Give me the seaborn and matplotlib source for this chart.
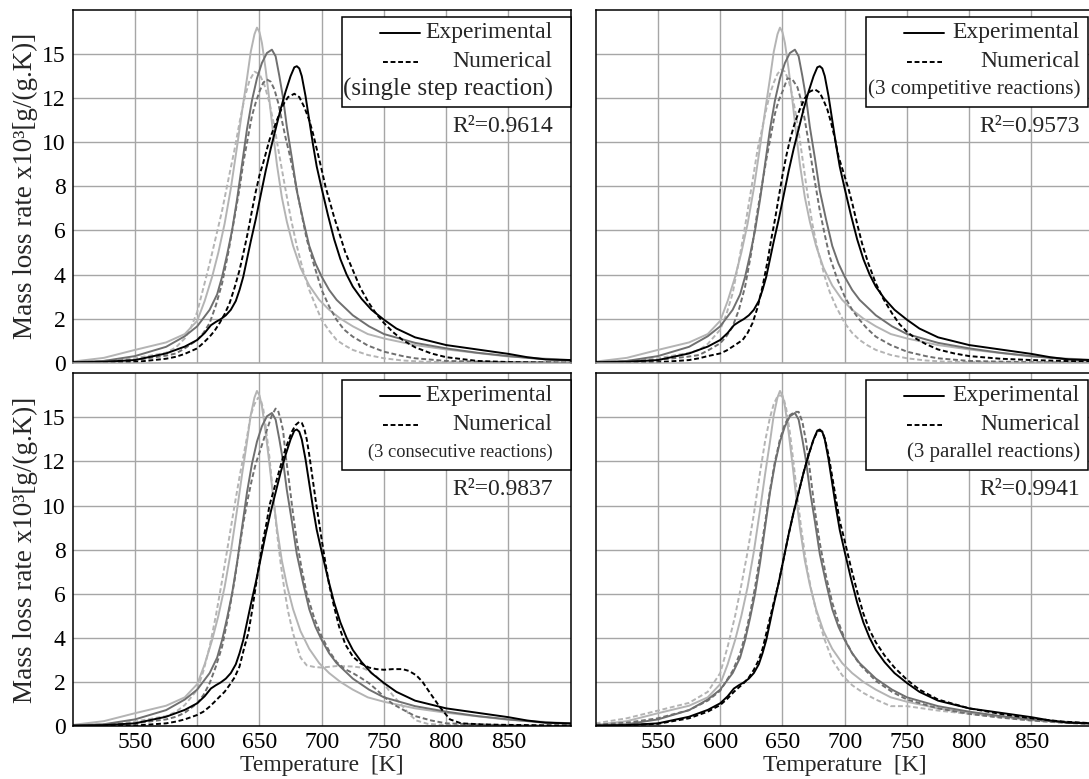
import matplotlib
matplotlib.use("Agg")
import matplotlib.pyplot as plt
from matplotlib.patches import Rectangle
import pandas as pd
import seaborn as sns

# ---------------------------------------------------------------------------
# Experimental mass loss rate curves (same in every panel), three heating rates
# ---------------------------------------------------------------------------
EXP_LIGHT_T = [500, 525, 550, 575, 590, 600, 606, 612, 617, 622, 627, 632, 636, 640, 643, 646, 648, 650,
               652, 655, 658, 661, 664, 668, 672, 677, 683, 690, 698, 706, 715, 725, 737, 750, 775, 800,
               850, 900]
EXP_LIGHT_V = [0.05, 0.22, 0.58, 0.92, 1.3, 1.9, 2.8, 3.9, 5.0, 6.3, 7.9, 9.8, 11.4, 12.9, 14.1, 14.9, 15.2,
               15.0, 14.5, 13.3, 11.9, 10.4, 9.0, 7.5, 6.4, 5.3, 4.3, 3.5, 2.85, 2.4, 2.0, 1.65, 1.3, 1.1,
               0.8, 0.6, 0.28, 0.12]

EXP_MID_T = [500, 525, 550, 575, 590, 600, 610, 616, 620, 624, 628, 632, 636, 640, 644, 648, 652, 656, 660,
             663, 666, 669, 672, 676, 680, 685, 690, 695, 700, 706, 712, 725, 738, 750, 775, 800, 825, 850,
             875, 900]
EXP_MID_V = [0.03, 0.08, 0.3, 0.72, 1.2, 1.65, 2.4, 3.1, 3.9, 4.9, 6.0, 7.4, 9.0, 10.6, 11.9, 12.9, 13.6,
             14.05, 14.2, 13.9, 13.0, 12.0, 10.7, 9.3, 7.8, 6.5, 5.3, 4.5, 3.9, 3.3, 2.85, 2.15, 1.65, 1.3,
             0.9, 0.65, 0.45, 0.3, 0.17, 0.1]

EXP_DARK_T = [500, 525, 550, 575, 590, 600, 606, 611, 615, 619, 623, 627, 631, 634, 637, 640, 643, 647, 651,
              655, 659, 663, 667, 671, 675, 678, 680, 682, 684, 687, 690, 693, 696, 700, 705, 710, 715, 720,
              725, 732, 740, 750, 760, 775, 800, 825, 850, 865, 880, 900]
EXP_DARK_V = [0.02, 0.04, 0.12, 0.42, 0.73, 1.03, 1.35, 1.7, 1.85, 1.98, 2.15, 2.4, 2.8, 3.3, 3.9, 4.7, 5.5,
              6.5, 7.6, 8.7, 9.7, 10.6, 11.5, 12.3, 13.0, 13.4, 13.45, 13.35, 13.0, 12.1, 11.0, 9.9, 8.9,
              7.9, 6.7, 5.6, 4.7, 4.0, 3.45, 2.9, 2.4, 1.95, 1.55, 1.15, 0.8, 0.6, 0.4, 0.25, 0.15, 0.12]

# ---------------------------------------------------------------------------
# Numerical curves: single step reaction
# ---------------------------------------------------------------------------
SINGLE_LIGHT_T = [500, 525, 550, 575, 583, 590, 595, 600, 605, 610, 615, 620, 625, 630, 634, 638, 642, 646,
                  650, 654, 658, 662, 666, 670, 675, 680, 685, 690, 695, 700, 706, 712, 718, 725, 737, 750,
                  765, 780, 800, 850, 900]
SINGLE_LIGHT_V = [0.02, 0.08, 0.2, 0.45, 0.7, 1.1, 1.6, 2.3, 3.4, 4.5, 5.7, 6.9, 8.3, 9.67, 10.9, 12.0,
                  12.8, 13.2, 13.1, 12.6, 11.8, 10.7, 9.4, 8.15, 6.6, 5.3, 4.2, 3.3, 2.6, 1.94, 1.45, 1.03,
                  0.8, 0.58, 0.35, 0.2, 0.1, 0.05, 0.02, 0.01, 0.0]

SINGLE_MID_T = [500, 525, 550, 575, 583, 590, 600, 605, 610, 615, 620, 625, 630, 634, 637, 641, 644, 647,
                650, 653, 656, 659, 662, 665, 668, 671, 674, 677, 680, 684, 688, 694, 700, 706, 712, 718,
                725, 737, 750, 765, 775, 800, 850, 900]
SINGLE_MID_V = [0.01, 0.04, 0.12, 0.32, 0.42, 0.65, 1.03, 1.35, 1.8, 2.6, 3.6, 5.0, 6.6, 7.9, 9.06, 10.3,
                11.2, 11.8, 12.3, 12.7, 12.85, 12.75, 12.4, 11.8, 11.0, 10.2, 9.5, 8.7, 7.85, 6.7, 5.6,
                4.4, 3.3, 2.55, 1.94, 1.5, 1.18, 0.78, 0.5, 0.3, 0.2, 0.08, 0.02, 0.0]

SINGLE_DARK_T = [500, 525, 550, 575, 583, 590, 600, 605, 610, 614, 618, 622, 626, 630, 634, 638, 641, 644,
                 647, 650, 653, 658, 664, 669, 673, 678, 682, 686, 690, 693, 696, 700, 703, 706, 710, 714,
                 719, 725, 731, 738, 744, 750, 757, 765, 775, 788, 800, 825, 850, 900]
SINGLE_DARK_V = [0.0, 0.01, 0.03, 0.18, 0.27, 0.4, 0.65, 0.9, 1.18, 1.45, 1.8, 2.2, 2.7, 3.4, 4.2, 5.2, 6.0,
                 6.9, 7.75, 8.5, 9.06, 10.1, 11.0, 11.7, 12.05, 12.2, 12.05, 11.6, 11.0, 10.4, 9.7, 8.75,
                 8.0, 7.4, 6.6, 5.9, 5.0, 4.2, 3.4, 2.7, 2.2, 1.8, 1.4, 1.03, 0.7, 0.42, 0.25, 0.08, 0.03,
                 0.0]

# ---------------------------------------------------------------------------
# Numerical curves: 3 competitive reactions
# ---------------------------------------------------------------------------
COMP_LIGHT_T = [500, 525, 550, 575, 583, 590, 600, 605, 610, 615, 620, 625, 630, 634, 637, 640, 643, 646,
                649, 652, 655, 658, 661, 664, 667, 670, 674, 678, 684, 688, 693, 700, 706, 712, 718, 725,
                737, 750, 765, 780, 800, 850, 900]
COMP_LIGHT_V = [0.02, 0.08, 0.2, 0.45, 0.58, 0.85, 1.5, 2.2, 3.15, 4.6, 6.2, 7.9, 9.67, 10.7, 11.5, 12.2,
                12.7, 13.1, 13.3, 13.2, 12.8, 12.1, 11.2, 10.1, 8.9, 7.7, 6.3, 5.2, 3.9, 3.2, 2.55, 1.8,
                1.35, 1.03, 0.8, 0.58, 0.35, 0.2, 0.1, 0.05, 0.03, 0.01, 0.0]

COMP_MID_T = [500, 525, 550, 575, 583, 590, 600, 605, 610, 615, 620, 625, 630, 634, 637, 641, 644, 647, 650,
              654, 658, 662, 665, 668, 671, 674, 677, 680, 684, 688, 694, 700, 706, 712, 718, 725, 737, 750,
              765, 775, 800, 850, 900]
COMP_MID_V = [0.01, 0.04, 0.12, 0.28, 0.35, 0.55, 0.88, 1.2, 1.64, 2.4, 3.45, 5.0, 6.9, 8.2, 9.2, 10.4,
              11.3, 11.9, 12.3, 12.9, 12.85, 12.5, 11.9, 11.0, 10.0, 8.9, 7.9, 6.9, 5.8, 4.8, 3.8, 3.0,
              2.4, 1.94, 1.55, 1.18, 0.8, 0.5, 0.3, 0.2, 0.08, 0.02, 0.0]

COMP_DARK_T = [500, 525, 550, 575, 583, 590, 600, 605, 610, 614, 618, 622, 626, 630, 634, 638, 641, 644,
               647, 650, 653, 656, 660, 664, 668, 672, 676, 680, 683, 686, 689, 692, 695, 700, 703, 706,
               710, 714, 719, 725, 731, 738, 744, 750, 757, 765, 775, 788, 800, 825, 850, 875, 900]
COMP_DARK_V = [0.0, 0.01, 0.02, 0.12, 0.2, 0.3, 0.42, 0.55, 0.73, 0.88, 1.03, 1.35, 1.8, 2.5, 3.45, 4.6,
               5.6, 6.5, 7.5, 8.5, 9.36, 10.1, 10.9, 11.5, 12.0, 12.3, 12.4, 12.25, 11.9, 11.5, 10.9, 10.2,
               9.36, 8.45, 7.9, 7.25, 6.3, 5.4, 4.5, 3.6, 2.9, 2.24, 1.75, 1.4, 1.1, 0.85, 0.6, 0.42, 0.3,
               0.18, 0.12, 0.08, 0.05]

# ---------------------------------------------------------------------------
# Numerical curves: 3 consecutive reactions
# ---------------------------------------------------------------------------
CONS_LIGHT_T = [500, 525, 550, 575, 583, 590, 600, 605, 610, 615, 620, 625, 630, 634, 637, 640, 643, 646,
                649, 651, 653, 655, 658, 661, 664, 667, 670, 673, 677, 683, 688, 694, 700, 712, 725, 732,
                738, 744, 750, 757, 765, 770, 776, 785, 800, 850, 900]
CONS_LIGHT_V = [0.02, 0.08, 0.2, 0.45, 0.65, 0.95, 1.64, 2.5, 3.6, 5.0, 6.6, 8.3, 10.0, 11.3, 12.2, 13.1,
                14.1, 14.6, 14.9, 14.8, 14.4, 13.6, 12.2, 10.5, 8.8, 7.4, 6.2, 5.2, 4.2, 3.1, 2.75, 2.68,
                2.65, 2.72, 2.7, 2.65, 2.5, 2.25, 1.9, 1.4, 0.9, 0.55, 0.25, 0.1, 0.04, 0.01, 0.0]

CONS_MID_T = [500, 525, 550, 575, 583, 590, 600, 605, 610, 615, 620, 625, 630, 634, 637, 641, 644, 647, 650,
              654, 657, 660, 663, 665, 667, 669, 671, 674, 677, 680, 684, 688, 694, 700, 706, 712, 718, 725,
              731, 738, 744, 750, 757, 765, 775, 788, 800, 850, 900]
CONS_MID_V = [0.01, 0.04, 0.12, 0.3, 0.42, 0.6, 1.03, 1.4, 1.94, 2.7, 3.6, 5.0, 6.6, 8.1, 9.2, 10.4, 11.2,
              11.9, 12.4, 13.1, 13.6, 14.1, 14.4, 14.3, 13.9, 13.4, 12.3, 11.0, 9.6, 8.4, 7.1, 6.0, 4.9,
              4.06, 3.4, 2.9, 2.6, 2.4, 2.2, 1.94, 1.65, 1.33, 1.0, 0.75, 0.45, 0.25, 0.12, 0.03, 0.0]

CONS_DARK_T = [500, 525, 550, 575, 583, 590, 600, 605, 610, 614, 618, 622, 626, 630, 634, 638, 641, 644,
               647, 650, 653, 656, 658, 661, 664, 667, 670, 673, 676, 679, 682, 684, 686, 688, 690, 692,
               695, 698, 700, 703, 706, 710, 714, 719, 725, 731, 738, 744, 750, 757, 765, 770, 776, 781,
               787, 795, 803, 812, 830, 850, 900]
CONS_DARK_V = [0.0, 0.01, 0.02, 0.12, 0.2, 0.3, 0.5, 0.65, 0.88, 1.1, 1.33, 1.55, 1.86, 2.2, 2.7, 3.6,
               4.2, 5.2, 6.33, 7.4, 8.45, 9.3, 10.0, 10.6, 11.2, 11.8, 12.4, 12.9, 13.35, 13.65, 13.8,
               13.75, 13.5, 13.0, 12.3, 11.5, 10.3, 9.2, 8.45, 7.4, 6.4, 5.4, 4.5, 3.7, 3.15, 2.85, 2.65,
               2.58, 2.55, 2.58, 2.58, 2.5, 2.3, 2.0, 1.5, 0.85, 0.3, 0.12, 0.07, 0.05, 0.02]

# ---------------------------------------------------------------------------
# Numerical curves: 3 parallel reactions
# ---------------------------------------------------------------------------
PAR_LIGHT_T = [500, 525, 550, 575, 590, 600, 606, 612, 617, 622, 627, 632, 636, 640, 643, 646, 649, 651,
               653, 656, 659, 662, 665, 669, 673, 678, 684, 690, 698, 706, 715, 725, 737, 750, 775, 800,
               850, 900]
PAR_LIGHT_V = [0.12, 0.35, 0.7, 1.05, 1.55, 2.4, 3.6, 5.0, 6.4, 7.9, 9.6, 11.5, 12.9, 14.0, 14.6, 14.95,
               15.0, 14.85, 14.4, 13.3, 11.9, 10.4, 9.0, 7.4, 6.2, 5.0, 3.9, 3.0, 2.3, 1.85, 1.5, 1.2, 0.9,
               0.9, 0.7, 0.55, 0.25, 0.1]

PAR_MID_T = [500, 525, 550, 575, 590, 600, 610, 616, 620, 624, 628, 632, 636, 640, 644, 648, 652, 656, 660,
             663, 666, 669, 672, 676, 680, 685, 690, 695, 700, 706, 712, 725, 738, 750, 775, 800, 825, 850,
             875, 900]
PAR_MID_V = [0.06, 0.15, 0.35, 0.72, 1.15, 1.6, 2.5, 3.3, 4.1, 5.1, 6.3, 7.7, 9.2, 10.7, 12.0, 13.0, 13.7,
             14.1, 14.25, 14.25, 13.8, 12.9, 11.6, 9.8, 8.3, 6.8, 5.6, 4.7, 3.95, 3.3, 2.8, 2.05, 1.55,
             1.2, 0.8, 0.55, 0.38, 0.25, 0.15, 0.08]

PAR_DARK_T = [500, 525, 550, 575, 590, 600, 606, 611, 615, 619, 623, 627, 631, 634, 637, 640, 643, 647, 651,
              655, 659, 663, 667, 671, 675, 678, 680, 682, 684, 687, 690, 693, 696, 700, 705, 710, 715, 720,
              725, 732, 740, 750, 760, 775, 800, 825, 850, 875, 900]
PAR_DARK_V = [0.01, 0.03, 0.1, 0.35, 0.65, 0.95, 1.25, 1.55, 1.75, 1.95, 2.2, 2.55, 3.0, 3.5, 4.2, 4.9, 5.6,
              6.5, 7.6, 8.7, 9.7, 10.6, 11.5, 12.3, 13.0, 13.35, 13.4, 13.35, 13.05, 12.3, 11.3, 10.3,
              9.3, 8.4, 7.2, 6.1, 5.1, 4.35, 3.8, 3.2, 2.65, 2.1, 1.65, 1.2, 0.8, 0.55, 0.35, 0.2, 0.12]

# Panel texts
PANEL_MODELS = ["(single step reaction)", "(3 competitive reactions)",
                "(3 consecutive reactions)", "(3 parallel reactions)"]
PANEL_R2 = ["0.9614", "0.9573", "0.9837", "0.9941"]
MODEL_SIZES = [18, 15.3, 13.2, 15]

X_TICKS = [550, 600, 650, 700, 750, 800, 850]
Y_TICKS = [0, 2, 4, 6, 8, 10, 12, 14]
Y_TICK_LABELS = ["0", "2", "4", "6", "8", "10", "12", "15"]

RATES = ["light", "mid", "dark"]
PALETTE = {"light": "#b4b4b4", "mid": "#6f6f6f", "dark": "#000000"}
DASHES = {"Experimental": "", "Numerical": (2.5, 1.4)}

EXPERIMENTAL = {"light": (EXP_LIGHT_T, EXP_LIGHT_V),
                "mid": (EXP_MID_T, EXP_MID_V),
                "dark": (EXP_DARK_T, EXP_DARK_V)}
NUMERICAL = [
    {"light": (SINGLE_LIGHT_T, SINGLE_LIGHT_V), "mid": (SINGLE_MID_T, SINGLE_MID_V),
     "dark": (SINGLE_DARK_T, SINGLE_DARK_V)},
    {"light": (COMP_LIGHT_T, COMP_LIGHT_V), "mid": (COMP_MID_T, COMP_MID_V),
     "dark": (COMP_DARK_T, COMP_DARK_V)},
    {"light": (CONS_LIGHT_T, CONS_LIGHT_V), "mid": (CONS_MID_T, CONS_MID_V),
     "dark": (CONS_DARK_T, CONS_DARK_V)},
    {"light": (PAR_LIGHT_T, PAR_LIGHT_V), "mid": (PAR_MID_T, PAR_MID_V),
     "dark": (PAR_DARK_T, PAR_DARK_V)},
]


def panel_frame(numerical):
    rows = []
    for kind, curves in (("Experimental", EXPERIMENTAL), ("Numerical", numerical)):
        for rate in RATES:
            temps, vals = curves[rate]
            for t, v in zip(temps, vals):
                rows.append({"T": t, "rate": v, "series": rate, "kind": kind})
    return pd.DataFrame(rows)


sns.set_theme(style="white")
plt.rcParams["font.family"] = ["Liberation Serif", "DejaVu Serif"]

W, H = 1089, 779
fig = plt.figure(figsize=(W / 100, H / 100), dpi=100)

AX_W, AX_H = 498.0, 352.7
# (left, top) of each panel in pixels
corners = [(72.7, 10.0), (595.7, 10.0), (72.7, 373.3), (595.7, 373.3)]
# legend box right edge / text right edge / box left edge, from the panel's left edge (px)
key_geom = [(498.0, 480.0, 269.3), (492.6, 484.3, 270.3), (498.0, 480.0, 269.3), (492.6, 484.3, 270.3)]

GRID = "#a6a6a6"

for i, (cx, cy) in enumerate(corners):
    ax = fig.add_axes([cx / W, (H - cy - AX_H) / H, AX_W / W, AX_H / H])
    df = panel_frame(NUMERICAL[i])
    sns.lineplot(data=df, x="T", y="rate", hue="series", style="kind",
                 hue_order=RATES, palette=PALETTE, dashes=DASHES,
                 estimator=None, sort=True, legend=False, lw=1.4, ax=ax)

    ax.set_xlim(500, 900)
    ax.set_ylim(0, 16)
    ax.set_xticks(X_TICKS)
    ax.set_yticks(Y_TICKS)
    ax.grid(True, color=GRID, lw=1.0)
    ax.set_axisbelow(True)
    for side in ("left", "top", "right", "bottom"):
        ax.spines[side].set_color("black")
        ax.spines[side].set_linewidth(1.1)
    if i < 2:
        ax.spines["bottom"].set_color(GRID)
    ax.tick_params(axis="both", length=0, labelsize=17, colors="black")
    ax.tick_params(axis="x", pad=4)
    ax.tick_params(axis="y", pad=5)

    if i % 2 == 0:
        ax.set_yticklabels(Y_TICK_LABELS)
        ax.set_ylabel("Mass loss rate x10³[g/(g.K)]", fontsize=19.5)
        ax.yaxis.set_label_coords(-0.07, 0.5)
    else:
        ax.set_yticklabels([])
        ax.set_ylabel("")
    if i >= 2:
        ax.set_xticklabels([str(t) for t in X_TICKS])
        ax.set_xlabel("Temperature  [K]", fontsize=17)
        ax.xaxis.set_label_coords(0.5, -29 / AX_H)
    else:
        ax.set_xticklabels([])
        ax.set_xlabel("")

    # key box with the model name and the fit quality
    box_r, txt_r, box_l = key_geom[i]
    fx = lambda px: px / AX_W
    fy = lambda py: 1 - py / AX_H
    ax.add_patch(Rectangle((fx(box_l), fy(97.0)), fx(box_r) - fx(box_l), fy(6.7) - fy(97.0),
                           transform=ax.transAxes, facecolor="white", edgecolor="black",
                           lw=1.1, zorder=5, clip_on=False))
    ax.plot([fx(box_l + 38), fx(box_l + 78)], [fy(22.5)] * 2, color="black", lw=1.4,
            transform=ax.transAxes, zorder=6, clip_on=False)
    ax.plot([fx(box_l + 41), fx(box_l + 76)], [fy(51.5)] * 2, color="black", lw=1.4,
            ls=(0, DASHES["Numerical"]), transform=ax.transAxes, zorder=6, clip_on=False)
    ax.text(fx(txt_r), fy(22.5), "Experimental", ha="right", va="center", fontsize=17,
            transform=ax.transAxes, zorder=7)
    ax.text(fx(txt_r), fy(51.5), "Numerical", ha="right", va="center", fontsize=17,
            transform=ax.transAxes, zorder=7)
    ax.text(fx(txt_r), fy(79.0), PANEL_MODELS[i], ha="right", va="center",
            fontsize=MODEL_SIZES[i], transform=ax.transAxes, zorder=7)
    ax.text(fx(txt_r), fy(116.0), "R²=" + PANEL_R2[i], ha="right", va="center", fontsize=17,
            transform=ax.transAxes, zorder=7)

fig.savefig("out.png", dpi=100, facecolor="white")
